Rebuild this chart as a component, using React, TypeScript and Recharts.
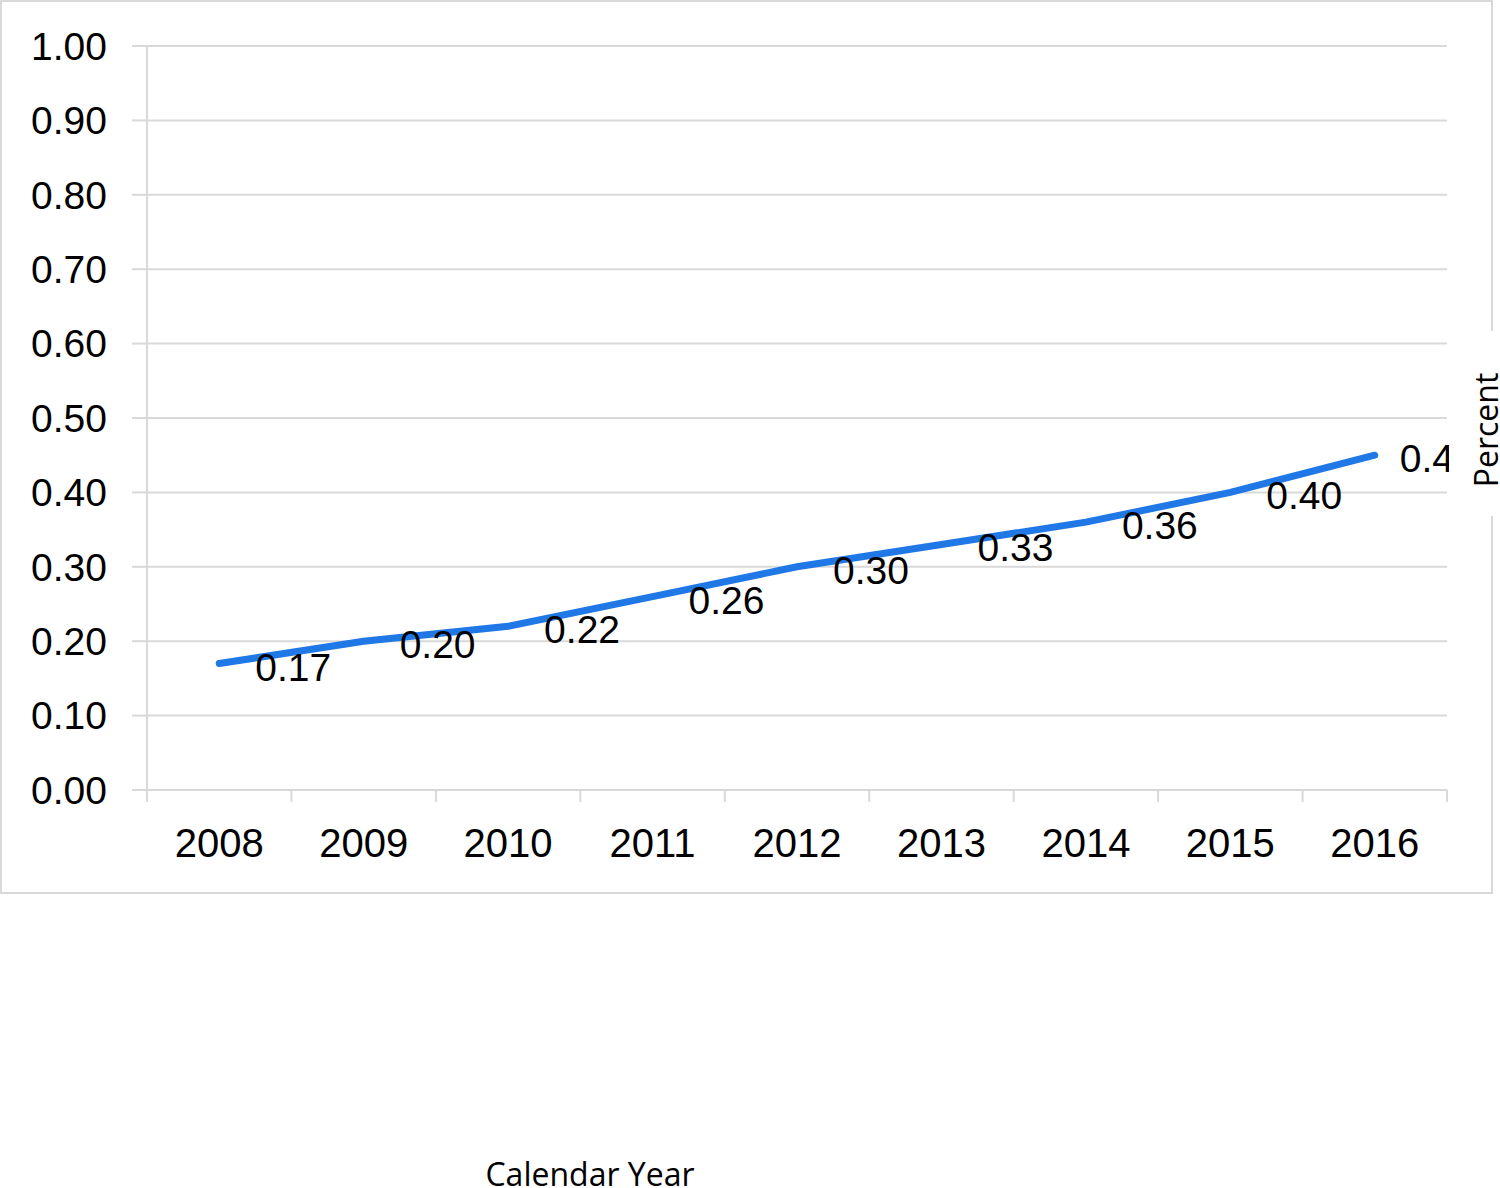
import { LineChart, Line, XAxis, YAxis, CartesianGrid, LabelList } from "recharts";

const years = ["2008", "2009", "2010", "2011", "2012", "2013", "2014", "2015", "2016"];
const percentValues = [0.17, 0.2, 0.22, 0.26, 0.3, 0.33, 0.36, 0.4, 0.45];
const yTicks = [0, 0.1, 0.2, 0.3, 0.4, 0.5, 0.6, 0.7, 0.8, 0.9, 1.0];

const data = years.map((year, i) => ({ year, value: percentValues[i] }));

const W = 1500;
const H = 1188;
const MARGIN = { top: 46, right: 53, bottom: 0, left: 0 };
const Y_AXIS_W = 147;
const X_AXIS_H = 398;
const BAND = (W - MARGIN.left - MARGIN.right - Y_AXIS_W) / years.length;
const GRID = "#d9d9d9";
const FONT = "'Liberation Sans', Arial, sans-serif";

function YearTick(props: any) {
  const { x, y, payload, index } = props;
  const last = index === years.length - 1;
  return (
    <g>
      <line x1={x - BAND / 2} x2={x - BAND / 2} y1={y} y2={y + 12} stroke={GRID} strokeWidth={2} />
      {last && <line x1={x + BAND / 2} x2={x + BAND / 2} y1={y} y2={y + 12} stroke={GRID} strokeWidth={2} />}
      <text x={x} y={y + 67} textAnchor="middle" fontSize={40} fontFamily={FONT} fill="#000">
        {payload.value}
      </text>
    </g>
  );
}

function ValueLabel(props: any) {
  const { x, y, value, index } = props;
  const dx = index === years.length - 1 ? 25 : 36;
  return (
    <text x={x + dx} y={y + 17} textAnchor="start" fontSize={39} fontFamily={FONT} fill="#000">
      {Number(value).toFixed(2)}
    </text>
  );
}

export default function App() {
  return (
    <div style={{ position: "absolute", left: 0, top: 0, width: W, height: H, background: "#fff" }}>
      <div
        style={{
          position: "absolute",
          left: 0,
          top: 0,
          width: 1493,
          height: 894,
          border: `2px solid ${GRID}`,
          boxSizing: "border-box",
        }}
      />
      <div style={{ position: "absolute", left: 0, top: 0 }}>
        <LineChart width={W} height={H} data={data} margin={MARGIN}>
          <CartesianGrid vertical={false} stroke={GRID} strokeWidth={2} />
          <XAxis
            dataKey="year"
            height={X_AXIS_H}
            padding={{ left: BAND / 2, right: BAND / 2 }}
            axisLine={{ stroke: GRID, strokeWidth: 2 }}
            tickLine={false}
            tickSize={0}
            tickMargin={0}
            interval={0}
            tick={<YearTick />}
          />
          <YAxis
            width={Y_AXIS_W}
            domain={[0, 1]}
            ticks={yTicks}
            interval={0}
            axisLine={{ stroke: GRID, strokeWidth: 2 }}
            tickLine={{ stroke: GRID, strokeWidth: 2 }}
            tickSize={15}
            tickMargin={25}
            tickFormatter={(v: number) => v.toFixed(2)}
            tick={{ fontSize: 39, fontFamily: FONT, fill: "#000" }}
          />
          <Line
            type="linear"
            dataKey="value"
            stroke="#1f78e6"
            strokeWidth={7}
            strokeLinecap="round"
            dot={false}
            activeDot={false}
            isAnimationActive={false}
          >
            <LabelList dataKey="value" content={<ValueLabel />} />
          </Line>
        </LineChart>
      </div>
      <svg
        width={W}
        height={H}
        style={{ position: "absolute", left: 0, top: 0, pointerEvents: "none" }}
      >
        <rect x={1449} y={331} width={51} height={185} fill="#fff" />
        <text
          x={1498}
          y={430}
          transform="rotate(-90, 1498, 430)"
          textAnchor="middle"
          fontSize={32}
          fontFamily="'Open Sans', sans-serif"
          fill="#000"
        >
          Percent
        </text>
        <text x={590} y={1186} textAnchor="middle" fontSize={32} fontFamily="'Open Sans', sans-serif" fill="#000">
          Calendar Year
        </text>
      </svg>
    </div>
  );
}
